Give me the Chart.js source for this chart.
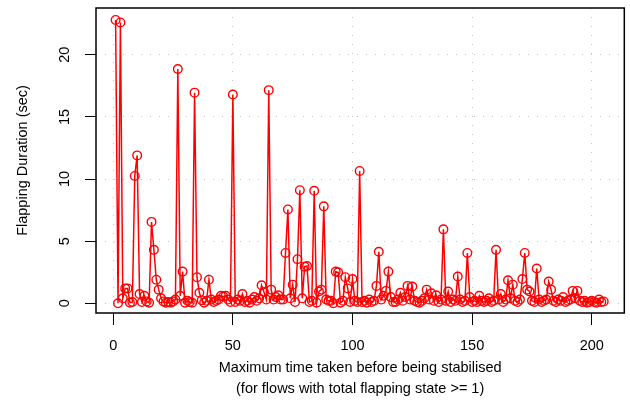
<html>
<head>
<script src="https://cdn.jsdelivr.net/npm/chart.js@4.4.0/dist/chart.umd.min.js"></script>
<style>
 body { margin:0; background:#fff; }
</style>
</head>
<body>
<canvas id="chart" width="630" height="403"></canvas>
<script>
// flapping duration (sec), one value per flow, x = 1..205
var flapping = [
 22.8, 0.0, 22.6, 0.4, 1.2, 1.2, 0.05, 0.1, 10.25, 11.9,
 0.75, 0.1, 0.6, 0.15, 0.05, 6.55, 4.3, 1.9, 1.1, 0.4,
 0.15, 0.05, 0.1, 0.05, 0.15, 0.3, 18.85, 0.6, 2.55, 0.05,
 0.2, 0.1, 0.05, 16.95, 2.1, 0.85, 0.25, 0.05, 0.2, 1.9,
 0.3, 0.1, 0.2, 0.3, 0.6, 0.55, 0.6, 0.3, 0.1, 16.8,
 0.1, 0.3, 0.2, 0.75, 0.1, 0.2, 0.05, 0.3, 0.5, 0.2,
 0.4, 1.45, 0.9, 0.3, 17.15, 1.1, 0.3, 0.5, 0.65, 0.3,
 0.3, 4.05, 7.55, 0.4, 1.5, 0.1, 3.55, 9.1, 0.4, 2.95,
 3.0, 0.1, 0.2, 9.05, 0.05, 0.95, 1.1, 7.8, 0.3, 0.2,
 0.2, 0.0, 2.55, 2.5, 0.05, 0.2, 2.1, 1.2, 0.1, 1.95,
 0.2, 0.1, 10.65, 0.1, 0.2, 0.05, 0.3, 0.1, 0.2, 1.4,
 4.15, 0.3, 0.6, 1.0, 2.55, 0.5, 0.1, 0.1, 0.3, 0.85,
 0.2, 0.5, 1.4, 0.3, 1.35, 0.2, 0.1, 0.05, 0.2, 0.4,
 1.1, 0.3, 0.8, 0.2, 0.65, 0.1, 0.3, 5.95, 0.2, 0.95,
 0.1, 0.3, 0.2, 2.15, 0.3, 0.1, 0.2, 4.05, 0.5, 0.1,
 0.2, 0.1, 0.6, 0.2, 0.1, 0.2, 0.4, 0.1, 0.2, 4.3,
 0.3, 0.75, 0.1, 0.3, 1.85, 0.4, 1.5, 0.2, 0.1, 0.3,
 1.95, 4.05, 1.1, 0.95, 0.2, 0.1, 2.8, 0.3, 0.1, 0.2,
 0.3, 1.75, 1.1, 0.2, 0.1, 0.3, 0.2, 0.5, 0.1, 0.2,
 0.3, 1.0, 0.4, 1.0, 0.2, 0.1, 0.2, 0.05, 0.1, 0.2,
 0.1, 0.05, 0.3, 0.1, 0.15
];
var xTicks = [0, 50, 100, 150, 200];
var yTicks = [0, 5, 10, 15, 20];
var xTitle = ["Maximum time taken before being stabilised", "(for flows with total flapping state >= 1)"];
var yTitle = "Flapping Duration (sec)";

var points = [];
for (var i = 0; i < flapping.length; i++) {
  points.push({x: i + 1, y: flapping[i]});
}

Chart.defaults.font.family = "Liberation Sans";
Chart.defaults.font.size = 14.5;
Chart.defaults.color = "#000";

// box round the plot and R style vertical y labels
var frame = {
  id: 'frame',
  afterDraw: function(chart) {
    var ctx = chart.ctx, a = chart.chartArea, ys = chart.scales.y;
    ctx.save();
    ctx.strokeStyle = "#000";
    ctx.lineWidth = 1.5;
    ctx.strokeRect(a.left, a.top, a.right - a.left, a.bottom - a.top);
    ctx.fillStyle = "#000";
    ctx.font = '14.5px "Liberation Sans"';
    ctx.textAlign = "center";
    ctx.textBaseline = "middle";
    yTicks.forEach(function(v) {
      var p = ys.getPixelForValue(v);
      ctx.save();
      ctx.translate(a.left - 31, p);
      ctx.rotate(-Math.PI / 2);
      ctx.fillText(String(v), 0, 0);
      ctx.restore();
    });
    ctx.restore();
  }
};

new Chart(document.getElementById("chart"), {
  type: "scatter",
  data: {
    datasets: [{
      data: points,
      showLine: true,
      borderColor: "#ff0000",
      borderWidth: 1.5,
      pointRadius: 4.3,
      pointBorderWidth: 1.4,
      pointBorderColor: "#ff0000",
      pointBackgroundColor: "rgba(0,0,0,0)",
      tension: 0
    }]
  },
  options: {
    responsive: false,
    animation: false,
    devicePixelRatio: 1,
    layout: {padding: {top: 8, right: 3, left: 0, bottom: 0}},
    plugins: {legend: {display: false}, tooltip: {enabled: false}},
    scales: {
      x: {
        type: "linear",
        min: -7.2,
        max: 213.6,
        afterBuildTicks: function(s) { s.ticks = xTicks.map(function(v) { return {value: v}; }); },
        afterFit: function(s) { s.height = 90; },
        ticks: {padding: 12, maxRotation: 0},
        grid: {color: "#c4c4c4", tickColor: "#000", tickLength: 12, tickWidth: 1},
        border: {display: false, dash: [1, 8]},
        title: {display: true, text: xTitle, padding: {top: 0, bottom: 3.5}, font: {size: 14.5, lineHeight: 1.45}}
      },
      y: {
        type: "linear",
        min: -0.78,
        max: 23.76,
        afterBuildTicks: function(s) { s.ticks = yTicks.map(function(v) { return {value: v}; }); },
        afterFit: function(s) { s.width = 96; },
        ticks: {display: false},
        grid: {color: "#c4c4c4", tickColor: "#000", tickLength: 11, tickWidth: 1},
        border: {display: false, dash: [1, 8]},
        title: {display: true, text: yTitle, padding: {top: 12.5, bottom: 0}, font: {size: 14.5, lineHeight: 1.45}}
      }
    }
  },
  plugins: [frame]
});
</script>
</body>
</html>
